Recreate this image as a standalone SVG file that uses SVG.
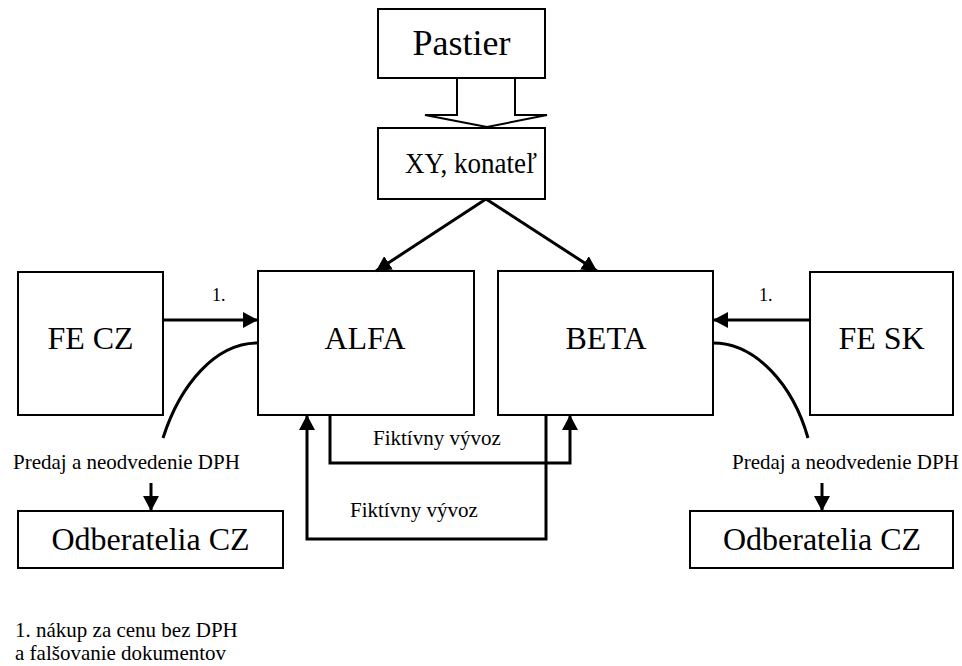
<svg xmlns="http://www.w3.org/2000/svg" width="962" height="666" viewBox="0 0 962 666">
  <style>
    .box { fill: #ffffff; stroke: #000000; stroke-width: 2; }
    text { fill: #000000; }
    .big { font-size: 32px; text-anchor: middle; }
    .small { font-size: 21px; }
    .line { fill: none; stroke: #000000; stroke-width: 3; }
    .arrow { fill: none; stroke: #000000; stroke-width: 3; marker-end: url(#head); }
  </style>
  <defs>
    <marker id="head" viewBox="0 0 10 10" refX="10" refY="5" markerUnits="userSpaceOnUse" markerWidth="15" markerHeight="16" orient="auto" preserveAspectRatio="none">
      <path d="M0,0 L10,5 L0,10 Z" fill="#000000"/>
    </marker>
  </defs>
  <rect width="962" height="666" fill="#ffffff"/>

  <g font-family="'Liberation Serif', 'DejaVu Serif', serif">
  <g id="pastier">
    <rect class="box" x="378" y="9" width="167" height="69"/>
    <text x="461.5" y="55" font-size="36" text-anchor="middle">Pastier</text>
  </g>

  <g id="konatel">
    <rect class="box" x="378" y="128" width="167" height="71"/>
    <text x="405" y="173" font-size="29" textLength="132" lengthAdjust="spacingAndGlyphs">XY, konateľ</text>
  </g>

  <g id="fe-cz">
    <rect class="box" x="18" y="272" width="145" height="143"/>
    <text class="big" x="90.5" y="349">FE CZ</text>
  </g>

  <g id="alfa">
    <rect class="box" x="258" y="271" width="216" height="144"/>
    <text class="big" x="365" y="349">ALFA</text>
  </g>

  <g id="beta">
    <rect class="box" x="498" y="271" width="215" height="144"/>
    <text class="big" x="606" y="349">BETA</text>
  </g>

  <g id="fe-sk">
    <rect class="box" x="810" y="272" width="143" height="143"/>
    <text class="big" x="881.5" y="349">FE SK</text>
  </g>

  <g id="odberatelia-cz-left">
    <rect class="box" x="18" y="511" width="265" height="57"/>
    <text class="big" x="150.5" y="550">Odberatelia CZ</text>
  </g>

  <g id="odberatelia-cz-right">
    <rect class="box" x="690" y="511" width="263" height="57"/>
    <text class="big" x="822" y="550">Odberatelia CZ</text>
  </g>

  <g id="connectors">
    <!-- hollow block arrow Pastier -> XY -->
    <polygon points="457,78 457,115 425,115 487,127 547,115 515,115 515,78" fill="#ffffff" stroke="#000000" stroke-width="2" stroke-linejoin="miter"/>
    <line class="arrow" x1="486" y1="199" x2="376" y2="271"/>
    <line class="arrow" x1="486" y1="199" x2="597" y2="271"/>
    <line class="arrow" x1="163" y1="320" x2="258" y2="320"/>
    <line class="arrow" x1="810" y1="320" x2="713" y2="320"/>
    <path class="line" d="M258,343 C215,343 180,385 163,438"/>
    <path class="line" d="M713,343 C756,343 793,385 808,438"/>
    <line class="arrow" x1="151" y1="483" x2="151" y2="511"/>
    <line class="arrow" x1="822" y1="483" x2="822" y2="511"/>
    <polyline class="arrow" points="330,415 330,463 570,463 570,415"/>
    <polyline class="arrow" points="546,415 546,539 307,539 307,415"/>
  </g>

  <g id="labels">
    <text x="212" y="301" font-size="18">1.</text>
    <text x="759" y="301" font-size="18">1.</text>
    <text class="small" x="13" y="469">Predaj a neodvedenie DPH</text>
    <text class="small" x="732" y="469">Predaj a neodvedenie DPH</text>
    <text class="small" x="373" y="445">Fiktívny vývoz</text>
    <text class="small" x="350" y="517">Fiktívny vývoz</text>
    <text class="small" x="15" y="637">1. nákup za cenu bez DPH</text>
    <text class="small" x="15" y="660">a falšovanie dokumentov</text>
  </g>
  </g>
</svg>
